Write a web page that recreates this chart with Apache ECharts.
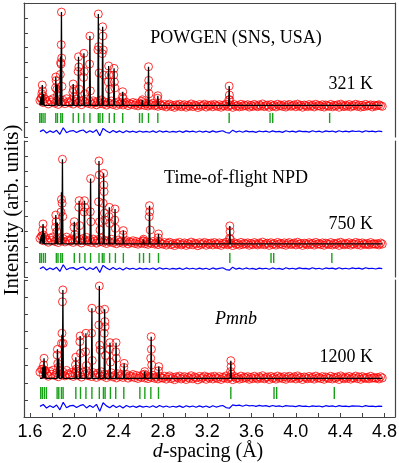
<!DOCTYPE html>
<html>
<head>
<meta charset="utf-8">
<title>POWGEN - Rietveld</title>
<script src="https://cdn.jsdelivr.net/npm/echarts@6/dist/echarts.min.js"></script>
<style>
	html, body{ margin:0; padding:0; background:#fff; }
	#chart{ width:399px; height:463px; }
</style>
</head>
<body>
<div id="chart"></div>
<script>
// background samples: d = dStart + step * i
var dStart = 1.69, dEnd = 4.78;
var obsStep = 0.015, diffStep = 0.03;

// x axis ticks / labels (d-spacing, A)
var xTickVals  = [1.6,1.8,2.0,2.2,2.4,2.6,2.8,3.0,3.2,3.4,3.6,3.8,4.0,4.2,4.4,4.6,4.8];
var xLabelVals = [1.6,2.0,2.4,2.8,3.2,3.6,4.0,4.4,4.8];

// ---------- 321 K ----------
var p1ObsBg = [2.45,2.62,2.31,2.55,2.38,2.22,2.48,2.35,2.58,2.27,
	2.42,2.19,2.51,2.33,2.46,2.24,2.57,2.36,2.29,2.44,
	2.21,2.39,2.52,2.28,2.41,2.17,2.47,2.32,2.55,2.26,
	2.38,2.2,2.43,2.3,2.16,2.4,2.25,2.49,2.22,2.35,
	2.14,2.31,2.24,2.42,2.18,2.28,2.12,2.36,2.21,2.3,
	2.15,2.26,2.33,2.11,2.24,2.19,2.32,2.14,2.27,2.09,
	2.22,2.16,2.3,2.12,2.25,2.08,2.2,2.15,2.27,2.1,
	2.18,2.06,2.23,2.13,
	2.08,2.19,2.02,2.14,2.21,2.05,2.12,1.99,2.16,2.09,
	2.2,2.03,2.11,2.17,2.0,2.13,2.07,2.22,2.04,2.15,
	2.1,1.98,2.18,2.06,2.12,2.2,2.01,2.14,2.08,2.16,
	2.03,2.19,2.1,2.05,2.17,2.0,2.13,2.09,2.21,2.04,
	2.11,2.15,1.99,2.18,2.07,2.12,2.02,2.2,2.06,2.14,
	2.09,2.17,2.01,2.13,2.05,2.19,2.1,2.03,2.16,2.08,
	2.22,2.04,2.11,2.15,2.0,2.18,2.07,2.13,2.02,2.2,
	2.09,2.14,2.05,2.17,2.01,2.12,2.19,2.06,2.1,2.16,
	2.03,2.21,2.08,2.13,2.0,2.15,2.11,2.04,2.18,2.07,
	2.14,2.02,2.2,2.09,2.12,2.05,2.17,2.01,2.15,2.1,
	2.06,2.19,2.03,2.13,2.08,2.16,2.0,2.21,2.11,2.04,
	2.14,2.07,2.18,2.02,2.12,2.09,2.2,2.05,2.15,2.01,
	2.13,2.04,2.19,2.08,2.11,2.16,2.02,2.14,2.07,2.12,
	2.17,2.1,2.06];
var p1ObsPeaks = [[1.700,2.6],[1.707,2.9],[1.711,3.49],[1.714,3.1],[1.719,2.75],
	[1.830,3.3],[1.833,4.03],[1.836,3.8],[1.843,3.2],[1.848,2.8],
	[1.874,4.2],[1.877,5.0],[1.880,4.9],[1.882,6.2],[1.884,8.39],[1.886,5.3],[1.889,3.4],
	[1.987,3.0],[1.990,3.56],[1.993,3.2],[1.997,2.7],
	[2.035,4.4],[2.038,5.39],[2.041,4.7],[2.045,3.2],
	[2.084,4.0],[2.087,5.62],[2.090,4.4],[2.095,2.9],
	[2.138,4.9],[2.141,6.78],[2.145,3.1],
	[2.213,5.85],[2.217,8.26],[2.220,6.07],[2.224,4.3],
	[2.252,5.6],[2.256,7.4],[2.258,6.78],[2.261,5.85],[2.266,4.16],
	[2.307,3.7],[2.310,4.77],[2.313,4.16],[2.318,3.2],
	[2.356,4.16],[2.359,4.61],[2.362,3.7],[2.366,3.3],
	[2.434,2.7],[2.437,3.04],[2.441,2.6],
	[2.610,2.4],[2.615,2.5],
	[2.667,3.4],[2.670,4.72],[2.672,3.8],[2.675,2.9],
	[2.751,2.6],[2.754,2.77],
	[3.395,2.5],[3.398,3.42],[3.400,2.82],[3.404,2.5]];
var p1CalcBg = 2.12;
var p1PeakD = [1.700,1.711,1.722,1.833,1.846,1.876,1.884,1.990,2.038,2.087,2.141,2.217,2.256,2.310,2.359,2.437,2.613,2.670,2.754,3.398,4.305];
var p1PeakH = [2.7,3.49,2.9,4.03,3.5,5.4,8.39,3.56,5.39,5.62,6.78,8.26,7.40,4.77,4.61,3.04,2.48,4.72,2.77,3.42,2.25];
var p1Refl = [1.688,1.702,1.718,1.736,1.833,1.848,1.878,1.893,1.990,2.038,2.087,2.141,2.217,2.232,2.256,2.316,2.361,2.437,2.589,2.613,2.670,2.754,3.398,3.767,3.791,4.305];
var p1Diff = [0.36,0.48,0.27,0.41,0.30,0.45,0.18,0.62,0.29,0.40,
	0.43,0.30,0.41,0.47,0.28,0.42,0.31,0.49,0.08,0.58,
	0.40,0.29,0.44,0.31,0.41,0.28,0.42,0.33,0.39,0.31,
	0.40,0.33,0.38,0.32,0.41,0.30,0.42,0.33,0.39,0.32,
	0.38,0.33,0.40,0.31,0.41,0.34,0.39,0.32,0.40,0.33,
	0.39,0.31,0.41,0.33,0.38,0.42,0.30,0.26,0.46,0.33,
	0.40,0.32,0.41,0.34,0.38,0.31,0.40,0.35,0.39,0.32,
	0.41,0.34,0.38,0.31,0.42,0.35,0.39,0.33,0.41,0.36,
	0.38,0.33,0.42,0.35,0.39,0.32,0.41,0.36,0.40,0.33,
	0.42,0.35,0.39,0.34,0.41,0.37,0.40,0.33,0.42,0.36,
	0.39,0.34,0.40,0.36];

// ---------- 750 K ----------
var p2ObsBg = [2.55,2.7,2.4,2.62,2.46,2.3,2.58,2.42,2.66,2.35,
	2.5,2.28,2.6,2.4,2.54,2.32,2.64,2.44,2.37,2.52,
	2.29,2.47,2.6,2.36,2.49,2.25,2.55,2.4,2.62,2.34,
	2.46,2.28,2.51,2.38,2.24,2.48,2.33,2.56,2.3,2.43,
	2.22,2.39,2.32,2.5,2.26,2.36,2.2,2.44,2.29,2.38,
	2.23,2.34,2.41,2.19,2.32,2.27,2.4,2.22,2.35,2.17,
	2.3,2.24,2.38,2.2,2.33,2.16,2.28,2.23,2.35,2.18,
	2.26,2.14,2.31,2.21,
	2.17,2.28,2.11,2.23,2.3,2.14,2.21,2.08,2.25,2.18,
	2.29,2.12,2.2,2.26,2.09,2.22,2.16,2.31,2.13,2.24,
	2.19,2.07,2.27,2.15,2.21,2.29,2.1,2.23,2.17,2.25,
	2.12,2.28,2.19,2.14,2.26,2.09,2.22,2.18,2.3,2.13,
	2.2,2.24,2.08,2.27,2.16,2.21,2.11,2.29,2.15,2.23,
	2.18,2.26,2.1,2.22,2.14,2.28,2.19,2.12,2.25,2.17,
	2.31,2.13,2.2,2.24,2.09,2.27,2.16,2.22,2.11,2.29,
	2.18,2.23,2.14,2.26,2.1,2.21,2.28,2.15,2.19,2.25,
	2.12,2.3,2.17,2.22,2.09,2.24,2.2,2.13,2.27,2.16,
	2.23,2.11,2.29,2.18,2.21,2.14,2.26,2.1,2.24,2.19,
	2.15,2.28,2.12,2.22,2.17,2.25,2.09,2.3,2.2,2.13,
	2.23,2.16,2.27,2.11,2.21,2.18,2.29,2.14,2.24,2.1,
	2.26,2.19,2.15,2.22,2.13,2.28,2.17,2.2,2.16,2.21,
	2.12,2.25,2.18];
var p2ObsPeaks = [[1.705,2.7],[1.714,3.11],[1.718,3.51],[1.722,2.78],
	[1.830,3.29],[1.833,4.10],[1.836,3.66],[1.842,3.0],
	[1.880,4.3],[1.884,5.14],[1.890,4.88],[1.893,7.79],[1.896,4.0],
	[1.997,3.29],[2.000,3.66],[2.004,2.8],
	[2.041,4.61],[2.044,5.05],[2.048,3.4],
	[2.089,4.3],[2.092,5.05],[2.095,4.61],
	[2.144,4.32],[2.147,6.51],[2.150,3.66],
	[2.219,4.98],[2.223,7.68],[2.225,6.75],[2.228,3.66],[2.232,3.11],
	[2.261,4.88],[2.265,6.86],[2.267,6.09],[2.269,5.65],[2.272,4.22],[2.276,3.77],
	[2.313,4.0],[2.316,4.61],[2.319,3.55],
	[2.365,3.77],[2.368,4.5],[2.371,3.22],
	[2.440,2.8],[2.443,3.07],
	[2.622,2.4],[2.625,2.5],
	[2.676,3.99],[2.679,4.72],[2.681,4.32],[2.685,3.11],
	[2.757,2.6],[2.760,2.85],
	[3.401,2.56],[3.404,3.38],[3.406,3.0],[3.409,2.5]];
var p2CalcBg = 2.19;
var p2PeakD = [1.705,1.718,1.728,1.833,1.846,1.884,1.893,2.000,2.044,2.092,2.147,2.223,2.265,2.316,2.368,2.443,2.625,2.679,2.760,3.404,4.325];
var p2PeakH = [2.8,3.51,2.9,4.1,3.6,5.6,7.79,3.66,5.05,5.05,6.51,7.68,6.87,4.61,4.50,3.07,2.5,4.72,2.85,3.38,2.28];
var p2Refl = [1.688,1.702,1.721,1.739,1.838,1.853,1.878,1.893,2.000,2.048,2.096,2.147,2.223,2.253,2.268,2.319,2.371,2.443,2.589,2.625,2.679,2.760,3.404,3.776,3.800,4.325];
var p2Diff = [0.55,0.67,0.46,0.60,0.49,0.64,0.37,0.81,0.48,0.59,
	0.62,0.49,0.60,0.66,0.47,0.61,0.50,0.68,0.30,0.77,
	0.59,0.48,0.63,0.50,0.60,0.47,0.61,0.52,0.58,0.50,
	0.59,0.52,0.57,0.51,0.60,0.49,0.61,0.52,0.58,0.51,
	0.57,0.52,0.59,0.50,0.60,0.53,0.58,0.51,0.59,0.52,
	0.58,0.50,0.60,0.52,0.57,0.61,0.49,0.45,0.65,0.52,
	0.59,0.51,0.60,0.53,0.57,0.50,0.59,0.54,0.58,0.51,
	0.60,0.53,0.57,0.50,0.61,0.54,0.58,0.52,0.60,0.55,
	0.57,0.52,0.61,0.54,0.58,0.51,0.60,0.55,0.59,0.52,
	0.61,0.54,0.58,0.53,0.60,0.56,0.59,0.52,0.61,0.55,
	0.58,0.53,0.59,0.55];

// ---------- 1200 K ----------
var p3ObsBg = [2.62,2.78,2.48,2.7,2.53,2.38,2.66,2.5,2.74,2.42,
	2.58,2.35,2.68,2.47,2.61,2.4,2.72,2.52,2.44,2.6,
	2.37,2.55,2.68,2.43,2.57,2.33,2.63,2.48,2.7,2.41,
	2.54,2.36,2.59,2.45,2.31,2.56,2.4,2.64,2.38,2.5,
	2.3,2.47,2.4,2.58,2.34,2.44,2.28,2.52,2.37,2.46,
	2.31,2.42,2.49,2.27,2.4,2.35,2.48,2.3,2.43,2.25,
	2.38,2.32,2.46,2.28,2.41,2.24,2.36,2.31,2.43,2.26,
	2.34,2.22,2.39,2.29,
	2.27,2.38,2.21,2.33,2.4,2.24,2.31,2.18,2.35,2.28,
	2.39,2.22,2.3,2.36,2.19,2.32,2.26,2.41,2.23,2.34,
	2.29,2.17,2.37,2.25,2.31,2.39,2.2,2.33,2.27,2.35,
	2.22,2.38,2.29,2.24,2.36,2.19,2.32,2.28,2.4,2.23,
	2.3,2.34,2.18,2.37,2.26,2.31,2.21,2.39,2.25,2.33,
	2.28,2.36,2.2,2.32,2.24,2.38,2.29,2.22,2.35,2.27,
	2.41,2.23,2.3,2.34,2.19,2.37,2.26,2.32,2.21,2.39,
	2.28,2.33,2.24,2.36,2.2,2.31,2.38,2.25,2.29,2.35,
	2.22,2.4,2.27,2.32,2.19,2.34,2.3,2.23,2.37,2.26,
	2.33,2.21,2.39,2.28,2.31,2.24,2.36,2.2,2.34,2.29,
	2.25,2.38,2.22,2.32,2.27,2.35,2.19,2.4,2.3,2.23,
	2.33,2.26,2.37,2.21,2.31,2.28,2.39,2.24,2.34,2.2,
	2.36,2.29,2.25,2.32,2.23,2.38,2.27,2.3,2.26,2.31,
	2.22,2.35,2.28];
var p3ObsPeaks = [[1.715,2.8],[1.723,3.04],[1.727,3.43],[1.730,2.74],
	[1.845,3.62],[1.848,3.95],[1.851,3.13],[1.857,2.9],
	[1.885,4.3],[1.889,4.89],[1.893,6.73],[1.897,7.42],[1.900,4.3],
	[2.011,3.04],[2.014,3.49],[2.018,2.8],
	[2.050,4.4],[2.053,4.73],[2.056,3.72],
	[2.102,3.81],[2.105,4.89],[2.109,3.0],
	[2.156,4.89],[2.159,6.35],[2.162,3.3],
	[2.222,5.37],[2.226,7.65],[2.228,6.25],[2.230,4.2],[2.234,3.91],
	[2.270,4.89],[2.274,6.29],[2.276,5.57],[2.278,5.27],[2.282,3.6],
	[2.319,3.95],[2.322,4.34],[2.326,3.2],
	[2.374,3.81],[2.377,4.34],[2.380,3.43],
	[2.447,2.9],[2.450,3.13],
	[2.633,2.5],[2.636,2.65],
	[2.690,3.43],[2.694,4.69],[2.696,3.95],[2.699,3.04],
	[2.760,2.7],[2.763,2.94],
	[3.410,2.65],[3.413,3.29],[3.415,2.94],[3.418,2.5]];
var p3CalcBg = 2.26;
var p3PeakD = [1.715,1.727,1.738,1.848,1.860,1.888,1.897,2.014,2.053,2.105,2.159,2.226,2.274,2.322,2.377,2.450,2.636,2.694,2.763,3.413,4.345];
var p3PeakH = [2.9,3.43,2.95,3.95,3.4,4.8,7.42,3.49,4.73,4.89,6.35,7.65,6.29,4.34,4.34,3.13,2.65,4.69,2.94,3.29,2.35];
var p3Refl = [1.697,1.712,1.730,1.748,1.845,1.860,1.884,1.899,2.014,2.056,2.105,2.159,2.226,2.263,2.278,2.326,2.374,2.447,2.592,2.637,2.691,2.760,3.413,3.803,3.827,4.347];
var p3Diff = [0.62,0.73,0.52,0.66,0.55,0.70,0.42,0.86,0.54,0.65,
	0.68,0.55,0.66,0.72,0.53,0.67,0.56,0.74,0.34,0.83,
	0.65,0.54,0.69,0.56,0.66,0.53,0.67,0.58,0.64,0.56,
	0.65,0.58,0.63,0.57,0.66,0.55,0.67,0.58,0.64,0.57,
	0.63,0.58,0.65,0.56,0.66,0.59,0.64,0.57,0.65,0.58,
	0.64,0.56,0.66,0.58,0.63,0.67,0.55,0.51,0.71,0.66,
	0.69,0.63,0.70,0.65,0.67,0.62,0.68,0.64,0.66,0.61,
	0.67,0.62,0.65,0.60,0.66,0.63,0.64,0.61,0.66,0.62,
	0.63,0.60,0.65,0.62,0.64,0.59,0.66,0.62,0.65,0.60,
	0.66,0.62,0.64,0.61,0.65,0.63,0.64,0.60,0.66,0.62,
	0.63,0.61,0.64,0.62];

// reflection marker span (y units) per panel
var reflSpan = [[0.94,1.61],[0.93,1.59],[1.05,1.75]];
var yMax = [9, 9, 8];

var panels = [
	{obsBg:p1ObsBg, obsPk:p1ObsPeaks, base:p1CalcBg, pkD:p1PeakD, pkH:p1PeakH, refl:p1Refl, diff:p1Diff},
	{obsBg:p2ObsBg, obsPk:p2ObsPeaks, base:p2CalcBg, pkD:p2PeakD, pkH:p2PeakH, refl:p2Refl, diff:p2Diff},
	{obsBg:p3ObsBg, obsPk:p3ObsPeaks, base:p3CalcBg, pkD:p3PeakD, pkH:p3PeakH, refl:p3Refl, diff:p3Diff}
];

function sampled(vals, step){
	var out = [];
	for (var i = 0; i < vals.length; i++){
		out.push([+(dStart + step * i).toFixed(4), vals[i]]);
	}
	return out;
}

function calcLine(base, pkD, pkH){
	var w = 0.0045;
	var pts = [[dStart, base], [dEnd, base]];
	for (var i = 0; i < pkD.length; i++){
		pts.push([pkD[i] - w, base], [pkD[i], pkH[i]], [pkD[i] + w, base]);
	}
	pts.sort(function(a, b){ return a[0] - b[0]; });
	return pts;
}

var frame = '#444';
var gridPos = [{top:3, height:134}, {top:141, height:136}, {top:280, height:137}];
var grids = [], xAxes = [], yAxes = [], series = [];

panels.forEach(function(p, k){
	grids.push({left:24, width:371, top:gridPos[k].top, height:gridPos[k].height, containLabel:false, outerBoundsMode:'none'});

	var isBottom = (k === 2);
	// bottom x axis
	xAxes.push({
		gridIndex:k, type:'value', min:1.546, max:4.895, position:'bottom',
		show:isBottom,
		axisLine:{show:true, onZero:false, lineStyle:{color:frame, width:1.2}},
		axisTick:{show:true, inside:true, length:4, customValues:xTickVals, lineStyle:{color:frame}},
		axisLabel:{show:true, customValues:xLabelVals, margin:6, color:'#000', fontSize:18, fontFamily:'Liberation Sans',
			formatter:function(v){ return v.toFixed(1); }},
		splitLine:{show:false}
	});
	// top x axis (frame only on first panel)
	xAxes.push({
		gridIndex:k, type:'value', min:1.546, max:4.895, position:'top',
		show:(k === 0),
		axisLine:{show:true, onZero:false, lineStyle:{color:frame, width:1.2}},
		axisTick:{show:false}, axisLabel:{show:false}, splitLine:{show:false}
	});
	yAxes.push({
		gridIndex:k, type:'value', min:0, max:yMax[k], interval:1, position:'left',
		axisLine:{show:true, onZero:false, lineStyle:{color:frame, width:1.2}},
		axisTick:{show:true, inside:true, length:4, lineStyle:{color:frame}},
		axisLabel:{show:false}, splitLine:{show:false}
	});
	yAxes.push({
		gridIndex:k, type:'value', min:0, max:yMax[k], position:'right',
		axisLine:{show:true, onZero:false, lineStyle:{color:frame, width:1.2}},
		axisTick:{show:false}, axisLabel:{show:false}, splitLine:{show:false}
	});

	var xi = k * 2, yi = k * 2;
	series.push({
		type:'scatter', xAxisIndex:xi, yAxisIndex:yi,
		data:sampled(p.obsBg, obsStep).concat(p.obsPk),
		symbol:'circle', symbolSize:8,
		itemStyle:{color:'rgba(0,0,0,0)', borderColor:'#ff0000', borderWidth:1},
		z:2
	});
	series.push({
		type:'line', xAxisIndex:xi, yAxisIndex:yi,
		data:calcLine(p.base, p.pkD, p.pkH),
		showSymbol:false, lineStyle:{color:'#000', width:1.3}, z:3
	});
	var span = reflSpan[k];
	series.push({
		type:'custom', xAxisIndex:xi, yAxisIndex:yi,
		data:p.refl.map(function(d){ return [d, span[0], span[1]]; }),
		encode:{x:0, y:[1, 2]},
		renderItem:function(params, api){
			var a = api.coord([api.value(0), api.value(1)]);
			var b = api.coord([api.value(0), api.value(2)]);
			return {type:'line', shape:{x1:a[0], y1:a[1], x2:b[0], y2:b[1]},
				style:{stroke:'#18a018', lineWidth:1.4}};
		},
		z:3
	});
	series.push({
		type:'line', xAxisIndex:xi, yAxisIndex:yi,
		data:sampled(p.diff, diffStep),
		showSymbol:false, lineStyle:{color:'#0000ff', width:1.2}, z:3
	});
});

var serif = 'Liberation Serif';
function label(txt, x, y, align, extra){
	var st = {text:txt, fontFamily:serif, fontSize:18, fill:'#000',
		align:align, verticalAlign:'middle', textAlign:align, textVerticalAlign:'middle'};
	for (var k in (extra || {})) st[k] = extra[k];
	return {type:'text', x:x, y:y, style:st, z:10};
}

var option = {
	animation:false,
	grid:grids, xAxis:xAxes, yAxis:yAxes, series:series,
	graphic:[
		label('POWGEN (SNS, USA)', 236, 38, 'center'),
		label('321 K', 373, 84, 'right'),
		label('Time-of-flight NPD', 236, 178, 'center'),
		label('750 K', 373, 224, 'right'),
		label('Pmnb', 236, 319, 'center', {fontStyle:'italic'}),
		label('1200 K', 373, 357, 'right'),
		label('{i|d}-spacing (Å)', 208, 452, 'center', {fontSize:20,
			rich:{i:{fontStyle:'italic', fontFamily:serif, fontSize:20}}}),
		{type:'text', x:12, y:210, rotation:Math.PI / 2,
			style:{text:'Intensity (arb. units)', fontFamily:serif, fontSize:21, fill:'#000',
				align:'center', verticalAlign:'middle', textAlign:'center', textVerticalAlign:'middle'}, z:10}
	]
};

var myChart = echarts.init(document.getElementById('chart'));
myChart.setOption(option);
</script>
</body>
</html>
